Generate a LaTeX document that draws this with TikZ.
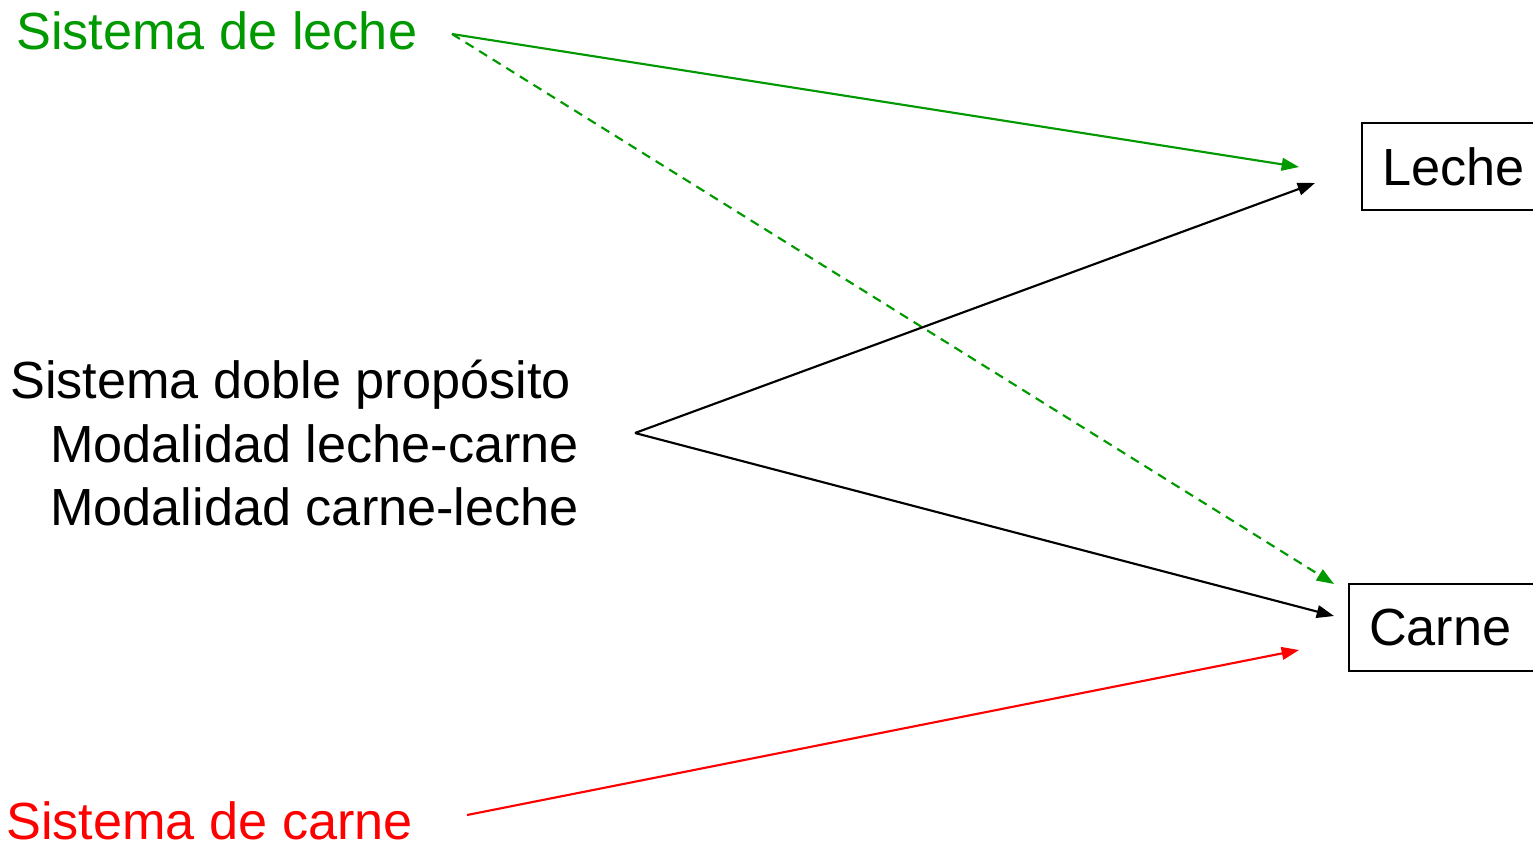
\documentclass[tikz,border=0pt]{standalone}
\usepackage{fontspec}
\setmainfont{Liberation Sans}
\usetikzlibrary{arrows.meta}
\definecolor{lgreen}{RGB}{0,153,0}
\definecolor{lred}{RGB}{255,0,0}
\begin{document}
\begin{tikzpicture}[x=0.75pt,y=-0.75pt,
  lbl/.style={inner sep=0pt,anchor=base west,font=\fontsize{39.2}{46}\selectfont},
  prodbox/.style={draw,line width=1.6pt,minimum height=65.25pt,text width=200pt,inner xsep=15pt,anchor=north west,font=\fontsize{39.2}{46}\selectfont},
  conn/.style={line width=1.6pt,-{Triangle[length=13pt,width=9.5pt]}}
]
\clip (0,0) rectangle (1533,844);
\node[prodbox,anchor=north west] (leche) at (1361,122) {Leche};
\node[prodbox,anchor=north west] (carne) at (1348,583) {Carne};
\node[lbl,text=lgreen] (sl) at (16,49) {Sistema de leche};
\node[lbl,text=lred,text depth=0pt] (sc) at (6,839) {Sistema de carne};
\node[lbl] (dp) at (10,398) {Sistema doble propósito};
\node[lbl] (m1) at (50,462) {Modalidad leche-carne};
\node[lbl] (m2) at (50,525) {Modalidad carne-leche};
\coordinate (gs) at (452,34);
\coordinate (ap) at (635,433);
\coordinate (rs) at (467,815);
\coordinate (gL) at (1299,167);
\coordinate (gC) at (1334,584);
\coordinate (bL) at (1315,183);
\coordinate (bC) at (1334,616);
\coordinate (rC) at (1299,650);
\draw[conn,lgreen] (gs) -- (gL);
\draw[conn,lgreen,dash pattern=on 7pt off 5pt] (gs) -- (gC);
\draw[conn,black] (ap) -- (bL);
\draw[conn,black] (ap) -- (bC);
\draw[conn,lred] (rs) -- (rC);
\end{tikzpicture}
\end{document}
